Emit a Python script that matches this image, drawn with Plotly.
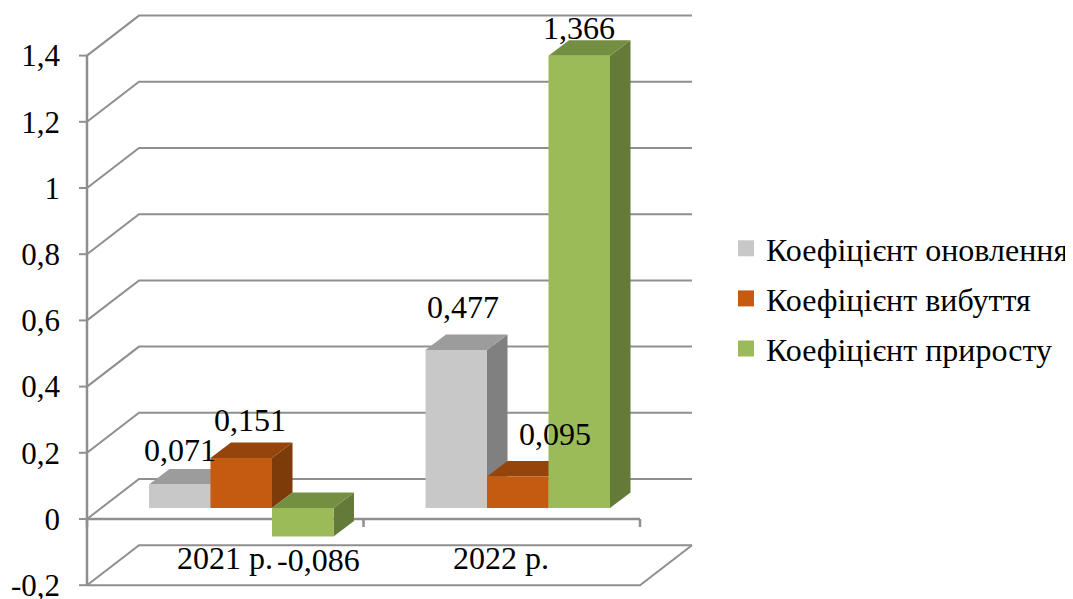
import plotly.graph_objects as go

categories = ["2021 р.", "2022 р."]
series_names = ["Коефіцієнт оновлення", "Коефіцієнт вибуття", "Коефіцієнт приросту"]
renewal = [0.071, 0.477]
retirement = [0.151, 0.095]
growth = [-0.086, 1.366]
y_ticks = [-0.2, 0, 0.2, 0.4, 0.6, 0.8, 1, 1.2, 1.4]

W, H = 1073, 599
PAGE_OFF = 8  # the page body margin displaces the figure
PX_PER_UNIT = 331.0
ZERO_PX = 519.0


def v(px):
    return (ZERO_PX - px) / PX_PER_UNIT


def dv(px):
    return px / PX_PER_UNIT


FRONT_L, FRONT_R = 87, 640
WALL_DX, WALL_DY = 52, 40
BASE = dv(11)
BAR_W = 61.5
GROUP_L = [149, 425.5]
SIDE_DX, SIDE_DY = 20.5, 15.5
GRID = "#8f8f8f"

front = ["#C8C8C8", "#C55A11", "#9BBB59"]
top = ["#9C9C9C", "#95450B", "#748E42"]
side = ["#808080", "#7C3B09", "#647A39"]
all_values = [renewal, retirement, growth]
font = "Liberation Serif"

shapes = []


def poly(pts, fill=None, color=None, width=0):
    path = "M" + "L".join(f"{x},{y}" for x, y in pts) + ("Z" if fill else "")
    shapes.append(dict(type="path", path=path, xref="x", yref="y", layer="below",
                       fillcolor=fill or "rgba(0,0,0,0)",
                       line=dict(color=color or "rgba(0,0,0,0)", width=width)))


# walls and grid
poly([(FRONT_L, y_ticks[-1]), (FRONT_L, y_ticks[0])], color=GRID, width=2.5)
for t in y_ticks:
    poly([(FRONT_L, t), (FRONT_L + WALL_DX, t + dv(WALL_DY)), (FRONT_R + WALL_DX, t + dv(WALL_DY))],
         color=GRID, width=2)
    poly([(FRONT_L - 8, t), (FRONT_L, t)], color=GRID, width=2)
poly([(FRONT_L, y_ticks[0]), (FRONT_R, y_ticks[0]), (FRONT_R + WALL_DX, y_ticks[0] + dv(WALL_DY))],
     color=GRID, width=2)
poly([(FRONT_L, 0), (FRONT_R, 0)], color=GRID, width=2.5)
for i in range(len(categories) + 1):
    xt = FRONT_L + i * (FRONT_R - FRONT_L) / len(categories)
    poly([(xt, 0), (xt, -dv(8))], color=GRID, width=2.5)

# 3D faces behind the bar fronts
for g in range(len(categories)):
    for s, values in enumerate(all_values):
        val = values[g]
        x0 = GROUP_L[g] + s * BAR_W
        x1 = x0 + BAR_W
        hi = BASE + max(val, 0)
        lo = BASE + min(val, 0)
        poly([(x1, lo), (x1 + SIDE_DX, lo + dv(SIDE_DY)), (x1 + SIDE_DX, hi + dv(SIDE_DY)), (x1, hi)], fill=side[s])
        poly([(x0, hi), (x0 + SIDE_DX, hi + dv(SIDE_DY)), (x1 + SIDE_DX, hi + dv(SIDE_DY)), (x1, hi)], fill=top[s])

fig = go.Figure()
for s, values in enumerate(all_values):
    xs = [GROUP_L[g] + (s + 0.5) * BAR_W for g in range(len(categories))]
    fig.add_trace(go.Bar(x=xs, y=values, base=BASE, width=BAR_W, marker=dict(color=front[s], line=dict(width=0)),
                         name=series_names[s], showlegend=False, hoverinfo="skip"))
    fig.add_trace(go.Scatter(x=[None], y=[None], mode="markers", name=series_names[s],
                             legendgroup=series_names[s],
                             marker=dict(symbol="square", size=16, color=front[s])))

# data labels: pixel nudges from the top/bottom of each bar
label_dx = [[0.5, 9, 15.5], [7, 37.5, 0]]
label_dy = [[-35, -38, 24], [-43, -43, -28]]
annotations = []
for g in range(len(categories)):
    for s, values in enumerate(all_values):
        val = values[g]
        xc = GROUP_L[g] + (s + 0.5) * BAR_W
        annotations.append(dict(
            x=xc, y=BASE + val, xref="x", yref="y",
            text=str(val).replace(".", ","), showarrow=False,
            xshift=label_dx[g][s], yshift=-label_dy[g][s],
            font=dict(family=font, size=32, color="#000"),
            xanchor="center", yanchor="middle"))

fig.update_layout(
    width=W, height=H, autosize=False,
    margin=dict(l=0, r=0, t=0, b=0, autoexpand=False),
    paper_bgcolor="white", plot_bgcolor="white",
    barmode="overlay",
    font=dict(family=font, size=30, color="#000"),
    shapes=shapes, annotations=annotations,
    legend=dict(x=(726 - PAGE_OFF) / W, y=1 - (221 - PAGE_OFF) / H, xanchor="left", yanchor="top",
                font=dict(family=font, size=32, color="#000"),
                tracegroupgap=5.5, bgcolor="rgba(0,0,0,0)"),
    xaxis=dict(domain=[0, 1], range=[PAGE_OFF, W + PAGE_OFF], showgrid=False, zeroline=False, showline=False,
               tickvals=[225, 501], ticktext=categories, ticks="", anchor="free", automargin=False,
               position=1 - (536 - PAGE_OFF) / H, tickfont=dict(family=font, size=32)),
    yaxis=dict(domain=[0, 1], range=[v(H + PAGE_OFF), v(PAGE_OFF)], showgrid=False, zeroline=False, showline=False,
               tickmode="array", tickvals=y_ticks, ticktext=[str(t).replace(".", ",") for t in y_ticks],
               ticks="", anchor="free", position=(60 - PAGE_OFF) / W, automargin=False,
               side="left", tickfont=dict(family=font, size=31)),
)

fig.write_html("out.html")
